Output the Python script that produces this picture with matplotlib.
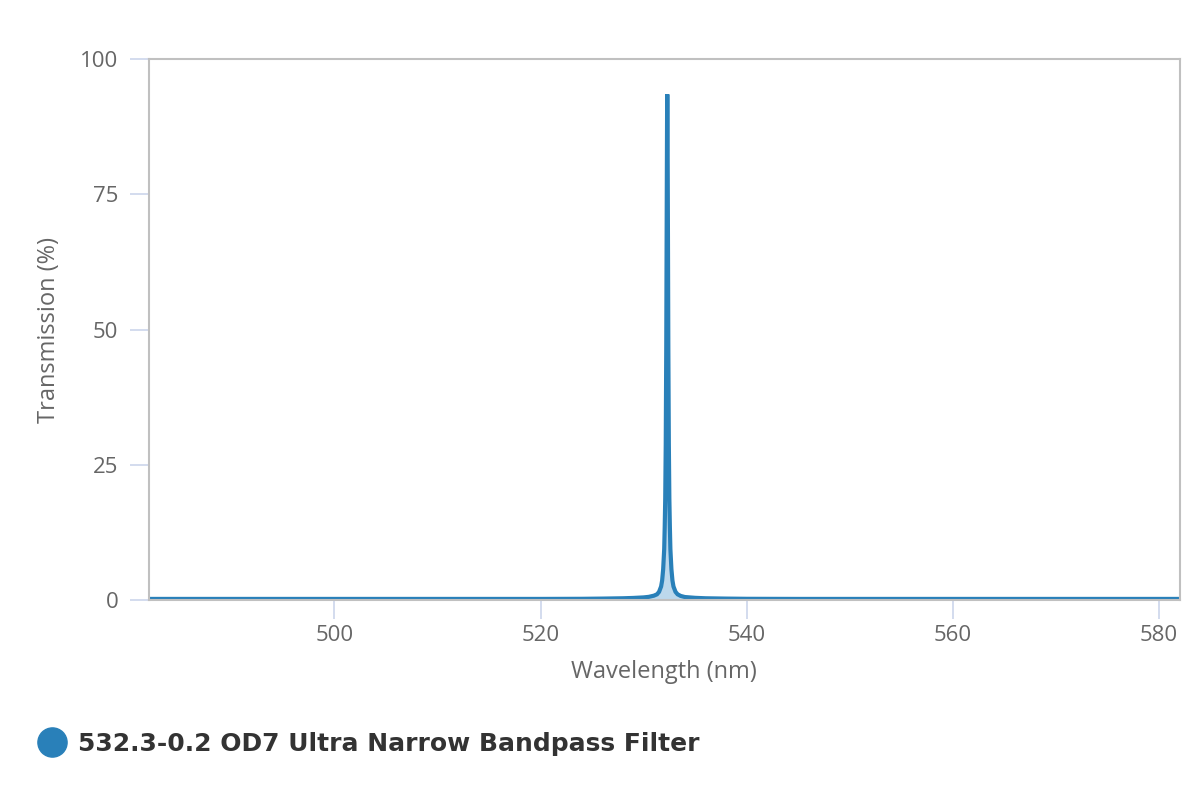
import matplotlib.pyplot as plt
from matplotlib.lines import Line2D

# wavelength (nm) and transmission (%)
wavelength = [482, 490, 500, 510, 520, 524, 526, 528, 529, 530, 530.5, 531.0,
              531.3, 531.5, 531.7, 531.8, 531.9, 532.0, 532.05, 532.1, 532.15,
              532.2, 532.25, 532.28, 532.3, 532.32, 532.35, 532.4, 532.45,
              532.5, 532.55, 532.6, 532.7, 532.8, 532.9, 533.1, 533.3, 533.6,
              534, 535, 536, 538, 540, 545, 550, 560, 570, 582]
transmission = [0.2, 0.2, 0.2, 0.2, 0.2, 0.22, 0.26, 0.32, 0.38, 0.48, 0.58, 0.8,
                1.05, 1.5, 2.5, 3.6, 5.7, 9.4, 13.5, 18.7, 28.8,
                46.8, 74.8, 89.9, 93.5, 89.9, 74.8, 46.8, 28.8,
                18.7, 13.5, 9.4, 5.7, 3.6, 2.5, 1.5, 1.05, 0.75,
                0.55, 0.4, 0.32, 0.26, 0.22, 0.2, 0.2, 0.2, 0.2, 0.2]
series_name = "532.3-0.2 OD7 Ultra Narrow Bandpass Filter"

line_color = "#2980b9"
tick_color = "#ccd6eb"
text_color = "#666666"

plt.rcParams['font.family'] = ['Open Sans', 'DejaVu Sans']

fig = plt.figure(figsize=(12, 8), dpi=100)
ax = fig.add_axes([0.124, 0.25, 0.859, 0.676])

ax.fill_between(wavelength, transmission, 0, color="#bcd8ec", lw=0)
ax.plot(wavelength, transmission, color=line_color, lw=3, solid_joinstyle="miter")

ax.set_xlim(482, 582)
ax.set_ylim(0, 100)
ax.set_xticks([500, 520, 540, 560, 580])
ax.set_yticks([0, 25, 50, 75, 100])

for s in ax.spines.values():
    s.set_color("#c0c0c0")
    s.set_linewidth(1.5)

ax.tick_params(axis="both", colors=tick_color, labelcolor=text_color,
               labelsize=16, length=14, width=1.2)
ax.tick_params(axis="x", pad=4)
ax.tick_params(axis="y", pad=8)

ax.set_xlabel("Wavelength (nm)", fontsize=17, color=text_color, labelpad=10)
ax.set_ylabel("Transmission (%)", fontsize=17, color=text_color, labelpad=14)

# legend drawn as marker + bold text below the plot
fig.add_artist(Line2D([52 / 1200], [1 - 742 / 800], transform=fig.transFigure,
                      marker="o", markersize=21, color=line_color, lw=0))
fig.text(78 / 1200, 1 - 744 / 800, series_name, fontsize=18, fontweight="bold",
         color="#333333", va="center", ha="left", family="DejaVu Sans")

fig.savefig("out.png", dpi=100)
